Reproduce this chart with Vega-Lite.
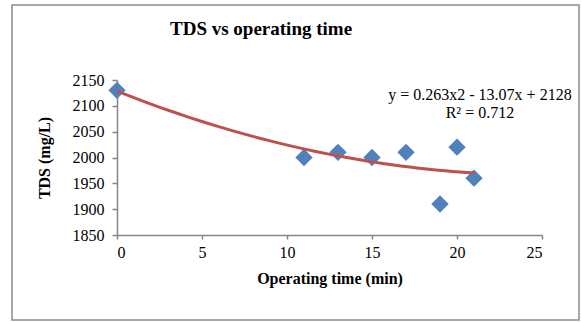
{
  "$schema": "https://vega.github.io/schema/vega-lite/v6.json",
  "autosize": {"type": "none"},
  "width": 567,
  "height": 315,
  "padding": {"left": 12, "top": 5, "right": 3, "bottom": 2},
  "background": "white",
  "config": {
    "view": {"stroke": "#8c8c8c", "strokeWidth": 1.5},
    "font": "Liberation Serif"
  },
  "title": {
    "text": "TDS vs operating time",
    "font": "Liberation Serif",
    "fontSize": 19,
    "fontWeight": "bold",
    "color": "black",
    "anchor": "start",
    "frame": "group",
    "dx": 158,
    "offset": -34
  },
  "datasets": {
    "points": [
      {"time": 0, "tds": 2130},
      {"time": 11, "tds": 2000},
      {"time": 13, "tds": 2010},
      {"time": 15, "tds": 2000},
      {"time": 17, "tds": 2010},
      {"time": 19, "tds": 1910},
      {"time": 20, "tds": 2020},
      {"time": 21, "tds": 1960}
    ],
    "labels": [
      {"label": "y = 0.263x2 - 13.07x + 2128", "lx": 21.35, "ly": 2121},
      {"label": "R² = 0.712", "lx": 21.35, "ly": 2086}
    ]
  },
  "data": {"name": "points"},
  "encoding": {
    "x": {
      "field": "time",
      "type": "quantitative",
      "scale": {"domain": [0, 25], "range": [105, 530], "nice": false, "zero": false},
      "axis": {
        "title": "Operating time (min)",
        "values": [0, 5, 10, 15, 20, 25],
        "format": "d",
        "offset": -85,
        "grid": false,
        "domainColor": "#868686",
        "domainWidth": 1.5,
        "tickColor": "#868686",
        "tickSize": 4,
        "tickWidth": 1.5,
        "labelFont": "Liberation Serif",
        "labelFontSize": 16,
        "labelColor": "black",
        "labelPadding": 5,
        "titleFont": "Liberation Serif",
        "titleFontSize": 16,
        "titleFontWeight": "bold",
        "titleColor": "black",
        "titlePadding": 10
      }
    },
    "y": {
      "field": "tds",
      "type": "quantitative",
      "scale": {"domain": [1850, 2150], "range": [230, 75], "nice": false, "zero": false},
      "axis": {
        "title": "TDS (mg/L)",
        "values": [1850, 1900, 1950, 2000, 2050, 2100, 2150],
        "format": "d",
        "offset": -105,
        "grid": false,
        "domainColor": "#868686",
        "domainWidth": 1.5,
        "tickColor": "#868686",
        "tickSize": 5,
        "tickWidth": 1.5,
        "labelFont": "Liberation Serif",
        "labelFontSize": 16,
        "labelColor": "black",
        "labelPadding": 8,
        "titleFont": "Liberation Serif",
        "titleFontSize": 16,
        "titleFontWeight": "bold",
        "titleColor": "black",
        "titlePadding": 20
      }
    }
  },
  "layer": [
    {
      "mark": {"type": "point", "shape": "diamond", "filled": true, "size": 300, "color": "#4F81BD", "opacity": 1}
    },
    {
      "transform": [
        {"regression": "tds", "on": "time", "method": "poly", "order": 2, "extent": [0, 21]}
      ],
      "mark": {"type": "line", "color": "#C0504D", "strokeWidth": 3}
    },
    {
      "data": {"name": "labels"},
      "mark": {"type": "text", "font": "Liberation Serif", "fontSize": 16, "color": "black", "align": "center", "baseline": "middle"},
      "encoding": {
        "x": {"field": "lx", "type": "quantitative"},
        "y": {"field": "ly", "type": "quantitative"},
        "text": {"field": "label", "type": "nominal"}
      }
    }
  ]
}
